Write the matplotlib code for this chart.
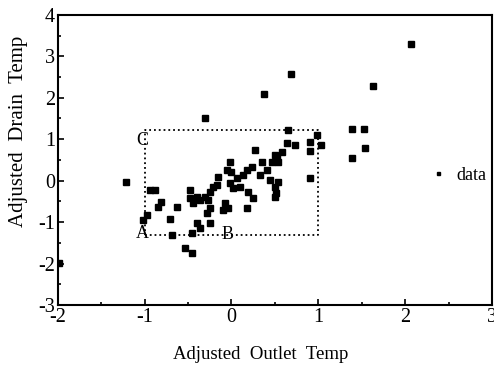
import matplotlib
matplotlib.use("Agg")
import matplotlib.pyplot as plt
from matplotlib.ticker import MultipleLocator

plt.rcParams['font.family'] = ['Liberation Serif', 'DejaVu Serif']
plt.rcParams['axes.unicode_minus'] = False

outlet = [2.07, 1.63, 0.68, 0.38, -0.31, 1.39, 1.53, 1.54, 1.03, 1.39, -1.21, -1.99,
          -0.54, -0.46, 0.90, 0.65, 0.99, 0.64, 0.73, 0.90, 0.90, 0.58, 0.50, 0.27,
          0.47, 0.53, -0.02, 0.35, 0.24, 0.41, 0.18, 0.13, 0.33, 0.06, 0.44, 0.53,
          -0.02, 0.02, 0.10, 0.19, 0.25, 0.50, 0.50, 0.51, -0.08, -0.04, 0.18, 0.00,
          -0.05, -0.16, -0.17, -0.21, -0.25, -0.25, -0.28, -0.40, -0.36, -0.25, -0.10,
          -0.48, -0.48, -0.40, -0.31, -0.44, -0.36, -0.27, -0.63, -0.81, -0.85, -0.71,
          -0.94, -0.88, -0.97, -1.02, -0.68, -0.46, 0.52]
drain = [3.30, 2.29, 2.58, 2.09, 1.51, 1.25, 1.25, 0.79, 0.86, 0.55, -0.03, -1.99,
         -1.63, -1.75, 0.07, 1.22, 1.10, 0.91, 0.86, 0.93, 0.72, 0.69, 0.62, 0.74,
         0.45, 0.45, 0.45, 0.45, 0.33, 0.26, 0.26, 0.14, 0.14, 0.07, 0.02, -0.03,
         -0.06, -0.18, -0.15, -0.27, -0.42, -0.15, -0.39, -0.30, -0.54, -0.66, -0.66, 0.21,
         0.26, 0.09, -0.10, -0.15, -0.27, -0.66, -0.78, -1.02, -1.14, -1.02, -0.71,
         -0.22, -0.42, -0.39, -0.39, -0.54, -0.47, -0.47, -0.64, -0.51, -0.64, -0.93,
         -0.22, -0.22, -0.83, -0.95, -1.31, -1.26, 0.55]

box_x = [-1, 1, 1, -1, -1]
box_y = [-1.3, -1.3, 1.23, 1.23, -1.3]
corner_labels = ['A', 'B', 'C']
corner_x = [-1.03, -0.04, -1.03]
corner_y = [-1.27, -1.31, 0.98]

fig = plt.figure(figsize=(4.94, 3.71), dpi=100)
ax = fig.add_axes([0.117, 0.178, 0.879, 0.782])

ax.plot(outlet, drain, linestyle='none', marker='s', markersize=4.8,
        color='black', label='data')
ax.plot(box_x, box_y, linestyle=':', color='black', linewidth=1.3)
for t, x, y in zip(corner_labels, corner_x, corner_y):
    ax.text(x, y, t, fontsize=13, ha='center', va='center')

ax.set_xlim(-2, 3)
ax.set_ylim(-3, 4)
ax.xaxis.set_major_locator(MultipleLocator(1))
ax.yaxis.set_major_locator(MultipleLocator(1))
ax.xaxis.set_minor_locator(MultipleLocator(0.5))
ax.yaxis.set_minor_locator(MultipleLocator(0.5))
ax.tick_params(which='both', direction='in', width=1.2, labelsize=14.5, pad=2)
ax.tick_params(which='major', length=4)
ax.tick_params(which='minor', length=2)
for s in ax.spines.values():
    s.set_linewidth(1.5)

ax.set_xlabel('Adjusted  Outlet  Temp', fontsize=13.5)
ax.set_ylabel('Adjusted  Drain  Temp', fontsize=15)
ax.xaxis.set_label_coords(0.468, -0.141)
ax.yaxis.set_label_coords(-0.068, 0.6)

ax.legend(loc='center right', bbox_to_anchor=(1.025, 0.447), frameon=False,
          markerscale=0.45, handlelength=0.6, handletextpad=0.75, fontsize=13)

fig.savefig('out.png', dpi=100)
